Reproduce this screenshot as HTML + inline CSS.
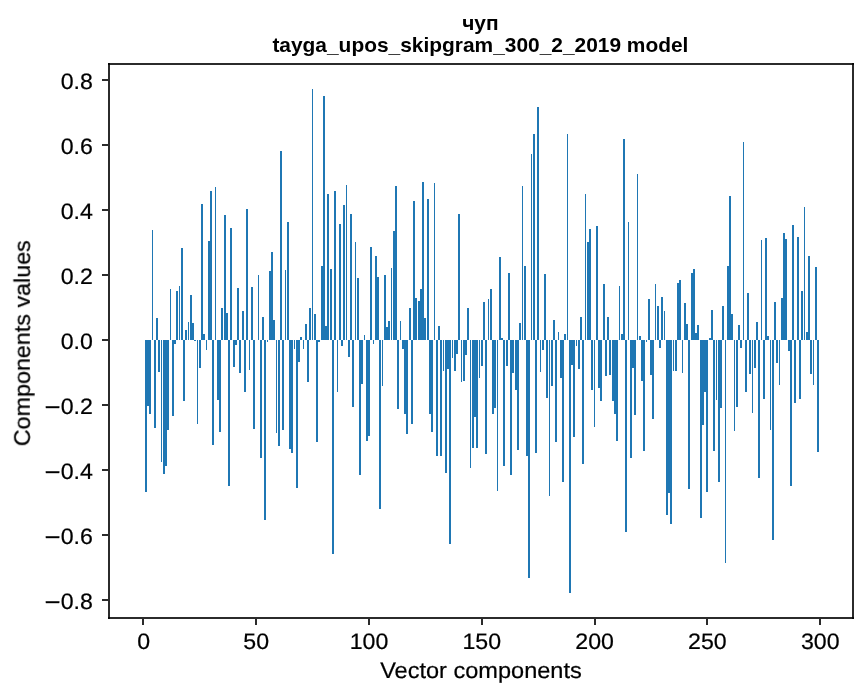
<!DOCTYPE html>
<html><head><meta charset="utf-8"><title>chart</title>
<style>html,body{margin:0;padding:0;background:#fff}body{width:867px;height:696px;overflow:hidden;font-family:"Liberation Sans",sans-serif}</style>
</head><body>
<svg width="867" height="696" viewBox="0 0 867 696" style="display:block">
<rect width="867" height="696" fill="#fff"/>
<path fill="#1f77b4" shape-rendering="crispEdges" d="M145 340h2v152h-2zM147 340h2v66h-2zM149 340h2v74h-2zM152 230h1v110h-1zM154 340h2v88h-2zM156 318h2v22h-2zM158 340h2v32h-2zM161 340h1v122h-1zM163 340h2v134h-2zM165 340h2v126h-2zM167 340h2v90h-2zM170 289h1v51h-1zM172 340h2v76h-2zM174 340h2v4h-2zM176 291h2v49h-2zM179 286h1v54h-1zM181 248h2v92h-2zM183 340h2v61h-2zM185 330h2v10h-2zM188 322h1v18h-1zM190 295h2v45h-2zM192 323h2v17h-2zM194 340h2v1h-2zM197 340h1v84h-1zM199 340h2v28h-2zM201 204h2v136h-2zM203 334h2v6h-2zM206 340h1v10h-1zM208 241h2v99h-2zM210 191h2v149h-2zM212 340h2v105h-2zM215 187h1v153h-1zM217 340h2v60h-2zM219 340h2v92h-2zM221 308h2v32h-2zM224 215h2v125h-2zM226 313h2v27h-2zM228 340h2v146h-2zM230 228h2v112h-2zM233 340h2v27h-2zM235 340h2v5h-2zM237 288h2v52h-2zM239 340h2v33h-2zM242 311h2v29h-2zM244 340h2v52h-2zM246 209h2v131h-2zM249 340h1v30h-1zM251 287h2v53h-2zM253 340h2v89h-2zM258 275h1v65h-1zM260 340h2v118h-2zM262 317h2v23h-2zM264 340h2v180h-2zM267 340h1v2h-1zM269 271h2v69h-2zM271 252h2v88h-2zM273 320h2v20h-2zM276 340h1v93h-1zM278 340h2v106h-2zM280 151h2v189h-2zM282 340h2v90h-2zM285 270h1v70h-1zM287 222h2v118h-2zM289 340h2v109h-2zM291 340h2v113h-2zM294 340h1v9h-1zM296 340h2v148h-2zM298 340h2v22h-2zM300 337h2v3h-2zM303 340h1v9h-1zM305 324h2v16h-2zM307 340h2v42h-2zM309 308h2v32h-2zM312 89h1v251h-1zM314 314h2v26h-2zM316 340h2v102h-2zM318 340h2v2h-2zM321 266h2v74h-2zM323 96h2v244h-2zM325 326h2v14h-2zM327 194h2v146h-2zM330 269h2v71h-2zM332 340h2v214h-2zM334 191h2v149h-2zM337 340h1v52h-1zM339 224h2v116h-2zM341 340h2v6h-2zM343 205h2v135h-2zM346 185h1v155h-1zM348 340h2v17h-2zM350 214h2v126h-2zM352 340h2v67h-2zM355 242h1v98h-1zM357 278h2v62h-2zM359 340h2v135h-2zM361 340h2v44h-2zM364 335h1v5h-1zM366 340h2v101h-2zM368 340h2v96h-2zM370 247h2v93h-2zM373 340h1v4h-1zM375 256h2v84h-2zM377 277h2v63h-2zM379 340h2v169h-2zM382 340h1v46h-1zM384 275h2v65h-2zM386 327h2v13h-2zM388 321h2v19h-2zM391 268h1v72h-1zM393 231h2v109h-2zM395 186h2v154h-2zM397 340h2v69h-2zM400 321h1v19h-1zM402 340h2v9h-2zM404 340h2v74h-2zM406 340h2v94h-2zM409 308h2v32h-2zM411 340h2v84h-2zM413 201h2v139h-2zM415 298h2v42h-2zM418 301h2v39h-2zM420 289h2v51h-2zM422 182h2v158h-2zM424 318h2v22h-2zM427 199h2v141h-2zM429 340h2v74h-2zM431 340h2v92h-2zM434 183h1v157h-1zM436 340h2v116h-2zM438 326h2v14h-2zM440 340h2v116h-2zM443 340h1v31h-1zM445 340h2v133h-2zM447 340h2v29h-2zM449 340h2v204h-2zM452 340h1v18h-1zM454 340h2v31h-2zM456 340h2v14h-2zM458 214h2v126h-2zM461 340h1v42h-1zM463 340h2v41h-2zM465 340h2v15h-2zM467 308h2v32h-2zM470 340h1v128h-1zM472 340h2v108h-2zM474 340h2v77h-2zM476 340h2v108h-2zM479 340h1v38h-1zM481 340h2v26h-2zM483 302h2v38h-2zM485 340h2v114h-2zM488 299h1v41h-1zM490 289h2v51h-2zM492 340h2v74h-2zM494 340h2v68h-2zM497 340h1v151h-1zM499 257h2v83h-2zM501 338h2v2h-2zM503 340h2v126h-2zM506 340h2v26h-2zM508 273h2v67h-2zM510 340h2v135h-2zM512 340h2v33h-2zM515 340h2v50h-2zM517 340h2v110h-2zM519 323h2v17h-2zM522 186h1v154h-1zM524 266h2v74h-2zM526 340h2v116h-2zM528 340h2v238h-2zM531 154h1v186h-1zM533 134h2v206h-2zM535 340h2v113h-2zM537 107h2v233h-2zM540 340h1v32h-1zM542 340h2v10h-2zM544 274h2v66h-2zM546 340h2v58h-2zM549 340h1v156h-1zM551 340h2v46h-2zM553 320h2v20h-2zM555 340h2v102h-2zM558 332h1v8h-1zM560 340h2v38h-2zM562 340h2v142h-2zM564 334h2v6h-2zM567 134h1v206h-1zM569 340h2v253h-2zM571 340h2v25h-2zM573 340h2v97h-2zM576 340h1v6h-1zM578 340h2v29h-2zM580 317h2v23h-2zM582 340h2v124h-2zM585 194h1v146h-1zM587 242h2v98h-2zM589 229h2v111h-2zM591 340h2v50h-2zM594 340h1v87h-1zM596 226h2v114h-2zM598 340h2v48h-2zM600 340h2v61h-2zM603 284h2v56h-2zM605 340h2v36h-2zM607 317h2v23h-2zM609 340h2v35h-2zM612 340h2v61h-2zM614 340h2v74h-2zM616 340h2v101h-2zM619 286h1v54h-1zM621 334h2v6h-2zM623 139h2v201h-2zM625 340h2v192h-2zM628 222h1v118h-1zM630 340h2v118h-2zM632 340h2v28h-2zM634 340h2v75h-2zM637 174h1v166h-1zM639 336h2v4h-2zM641 340h2v41h-2zM643 340h2v111h-2zM646 340h1v2h-1zM648 299h2v41h-2zM650 340h2v35h-2zM652 340h2v79h-2zM655 284h1v56h-1zM657 306h2v34h-2zM659 340h2v8h-2zM661 297h2v43h-2zM664 311h1v29h-1zM666 340h2v175h-2zM668 340h2v153h-2zM670 340h2v184h-2zM673 340h1v31h-1zM675 340h2v31h-2zM677 283h2v57h-2zM679 280h2v60h-2zM682 340h1v33h-1zM684 303h2v37h-2zM686 324h2v16h-2zM688 340h2v149h-2zM691 273h2v67h-2zM693 269h2v71h-2zM695 333h2v7h-2zM697 325h2v15h-2zM700 340h2v178h-2zM702 340h2v85h-2zM704 340h2v52h-2zM706 340h2v152h-2zM709 338h2v2h-2zM711 310h2v30h-2zM713 340h2v111h-2zM716 340h1v60h-1zM718 340h2v142h-2zM720 340h2v68h-2zM722 306h2v34h-2zM725 340h1v223h-1zM727 266h2v74h-2zM729 196h2v144h-2zM731 314h2v26h-2zM734 340h1v91h-1zM736 340h2v67h-2zM738 325h2v15h-2zM740 340h2v8h-2zM743 142h1v198h-1zM745 340h2v52h-2zM747 293h2v47h-2zM749 340h2v34h-2zM752 340h1v73h-1zM754 340h2v28h-2zM756 322h2v18h-2zM758 340h2v138h-2zM761 240h1v100h-1zM763 340h2v59h-2zM765 238h2v102h-2zM767 336h2v4h-2zM770 340h1v90h-1zM772 340h2v200h-2zM774 302h2v38h-2zM776 340h2v23h-2zM779 340h1v45h-1zM781 298h2v42h-2zM783 233h2v107h-2zM785 239h2v101h-2zM788 340h2v11h-2zM790 340h2v146h-2zM792 225h2v115h-2zM794 340h2v63h-2zM797 237h2v103h-2zM799 340h2v59h-2zM801 291h2v49h-2zM804 207h1v133h-1zM806 332h2v8h-2zM808 256h2v84h-2zM810 340h2v34h-2zM813 340h1v45h-1zM815 267h2v73h-2zM817 340h2v112h-2z"/>
<g fill="#2b2b2b" shape-rendering="crispEdges">
<rect x="108" y="63" width="2" height="556"/>
<rect x="852" y="63" width="2" height="556"/>
<rect x="108" y="63" width="746" height="2"/>
<rect x="108" y="617" width="746" height="2"/>
<rect x="108" y="63" width="2" height="2" fill="#070707"/>
<rect x="108" y="617" width="2" height="2" fill="#070707"/>
<rect x="852" y="63" width="2" height="2" fill="#070707"/>
<rect x="852" y="617" width="2" height="2" fill="#070707"/>
<rect x="142" y="619" width="2" height="6"/>
<rect x="255" y="619" width="2" height="6"/>
<rect x="368" y="619" width="2" height="6"/>
<rect x="481" y="619" width="2" height="6"/>
<rect x="594" y="619" width="2" height="6"/>
<rect x="706" y="619" width="2" height="6"/>
<rect x="819" y="619" width="2" height="6"/>
<rect x="102" y="599" width="6" height="2"/>
<rect x="102" y="534" width="6" height="2"/>
<rect x="102" y="469" width="6" height="2"/>
<rect x="102" y="404" width="6" height="2"/>
<rect x="102" y="339" width="6" height="2"/>
<rect x="102" y="274" width="6" height="2"/>
<rect x="102" y="209" width="6" height="2"/>
<rect x="102" y="144" width="6" height="2"/>
<rect x="102" y="79" width="6" height="2"/>
</g>
<g font-family="Liberation Sans, sans-serif" font-size="22.25px" fill="#000" stroke="#000" stroke-width="0.22" style="mix-blend-mode:multiply" text-rendering="geometricPrecision">
<text transform="translate(143.69,648.6) scale(1.04,1)" text-anchor="middle">0</text>
<text transform="translate(256.19,648.6) scale(1.04,1)" text-anchor="middle">50</text>
<text transform="translate(368.99,648.6) scale(1.04,1)" text-anchor="middle">100</text>
<text transform="translate(481.79,648.6) scale(1.04,1)" text-anchor="middle">150</text>
<text transform="translate(594.60,648.6) scale(1.04,1)" text-anchor="middle">200</text>
<text transform="translate(707.40,648.6) scale(1.04,1)" text-anchor="middle">250</text>
<text transform="translate(820.20,648.6) scale(1.04,1)" text-anchor="middle">300</text>
<text transform="translate(92.85,608.9) scale(1.04,1)" text-anchor="end">0.8</text>
<rect x="45.9" y="601.3" width="13.35" height="1.75"/>
<text transform="translate(92.85,543.9) scale(1.04,1)" text-anchor="end">0.6</text>
<rect x="45.9" y="536.3" width="13.35" height="1.75"/>
<text transform="translate(92.85,478.9) scale(1.04,1)" text-anchor="end">0.4</text>
<rect x="45.9" y="471.3" width="13.35" height="1.75"/>
<text transform="translate(92.85,413.9) scale(1.04,1)" text-anchor="end">0.2</text>
<rect x="45.9" y="406.3" width="13.35" height="1.75"/>
<text transform="translate(92.85,348.9) scale(1.04,1)" text-anchor="end">0.0</text>
<text transform="translate(92.85,283.9) scale(1.04,1)" text-anchor="end">0.2</text>
<text transform="translate(92.85,218.9) scale(1.04,1)" text-anchor="end">0.4</text>
<text transform="translate(92.85,153.9) scale(1.04,1)" text-anchor="end">0.6</text>
<text transform="translate(92.85,88.9) scale(1.04,1)" text-anchor="end">0.8</text>
</g>
<g font-family="Liberation Sans, sans-serif" font-size="22.5px" fill="#000" stroke="#000" stroke-width="0.22" style="mix-blend-mode:multiply" text-rendering="geometricPrecision">
<text transform="translate(380.2,677.65) scale(1.0465,1)">Vector components</text>
<text transform="translate(29.8,446.2) rotate(-90) scale(1.0357,1)">Components values</text>
</g>
<g font-family="Liberation Sans, sans-serif" font-weight="bold" font-size="20.92px" fill="#000" text-anchor="middle" style="mix-blend-mode:multiply">
<text transform="translate(480.4,30.3)">чуп</text>
<text transform="translate(480.4,51.6)">tayga_upos_skipgram_300_2_2019 model</text>
</g>
</svg>
</body></html>
